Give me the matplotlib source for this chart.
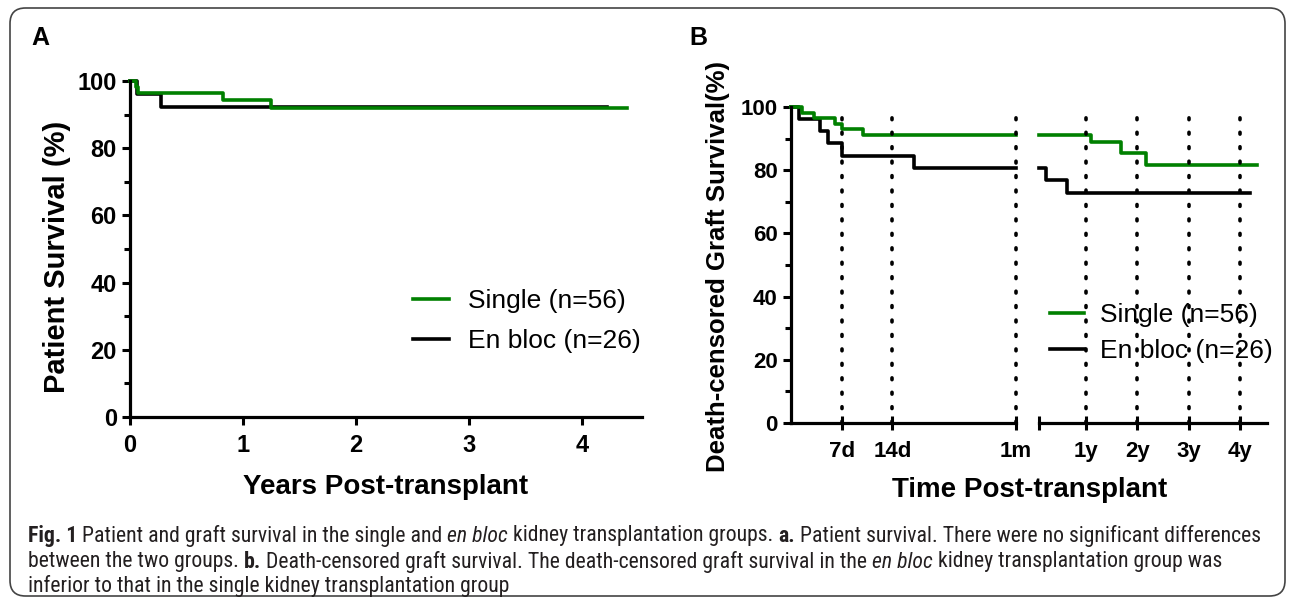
import numpy as np
import matplotlib
matplotlib.use("Agg")
import matplotlib.pyplot as plt
from matplotlib.patches import FancyBboxPatch

# data
# panel A: patient survival, years
a_single_t = [0, 0.05, 0.07, 0.82, 1.25, 4.40]
a_single_s = [100, 98.2, 96.4, 94.3, 92.0, 92.0]
a_bloc_t = [0, 0.06, 0.27, 4.22]
a_bloc_s = [100, 96.2, 92.3, 92.3]

# panel B: death-censored graft survival, first month in days
b_single_days = [0, 1.5, 3.2, 6.1, 7.0, 10.0, 31]
b_single_days_s = [100, 98.2, 96.4, 94.6, 92.9, 91.1, 91.1]
b_bloc_days = [0, 1.1, 4.0, 5.1, 7.0, 16.9, 31]
b_bloc_days_s = [100, 96.2, 92.3, 88.5, 84.6, 80.8, 80.8]
# after first month, in years
b_single_yrs = [0.09, 1.09, 1.69, 2.16, 4.33]
b_single_yrs_s = [91.1, 88.9, 85.4, 81.6, 81.6]
b_bloc_yrs = [0.09, 0.22, 0.62, 4.20]
b_bloc_yrs_s = [80.8, 76.9, 72.7, 72.7]

day_ticks = [7, 14, 31]
day_labels = ["7d", "14d", "1m"]
yr_ticks = [1, 2, 3, 4]
yr_labels = ["1y", "2y", "3y", "4y"]

labels = ["Single (n=56)", "En bloc (n=26)"]
green = "#008000"

plt.rcParams["font.family"] = ["Liberation Sans", "DejaVu Sans"]
W, H = 1293, 599
fig = plt.figure(figsize=(W / 100, H / 100), dpi=100)


def box(x0, y_top, x1, y_bot):
    # pixel box -> figure fraction [left, bottom, width, height]
    return [x0 / W, 1 - y_bot / H, (x1 - x0) / W, (y_bot - y_top) / H]


def style_y(ax):
    ax.set_ylim(0, 100)
    ax.set_yticks(range(0, 101, 20))
    ax.set_yticks(range(10, 100, 20), minor=True)
    ax.tick_params(axis="y", which="major", length=6, width=2.2, labelsize=17)
    ax.tick_params(axis="y", which="minor", length=4, width=2.2)
    for lb in ax.get_yticklabels():
        lb.set_fontweight("bold")


lw_curve = 2.6
lw_spine = 2.3

# ---- panel A
axA = fig.add_axes(box(130, 81, 642, 417))
axA.plot(a_bloc_t, a_bloc_s, drawstyle="steps-post", color="black", lw=lw_curve,
         clip_on=False, label=labels[1])
axA.plot(a_single_t, a_single_s, drawstyle="steps-post", color=green, lw=lw_curve,
         clip_on=False, label=labels[0])
axA.set_xlim(0, 4.53)
axA.set_xticks([0, 1, 2, 3, 4])
axA.tick_params(axis="x", length=6, width=2.2, labelsize=17, pad=6)
for lb in axA.get_xticklabels():
    lb.set_fontweight("bold")
style_y(axA)
for s in ["top", "right"]:
    axA.spines[s].set_visible(False)
for s in ["left", "bottom"]:
    axA.spines[s].set_linewidth(lw_spine)
h, l = axA.get_legend_handles_labels()
axA.legend(h[::-1], l[::-1], loc="center left", bbox_to_anchor=(413 / W, 1 - 321 / H),
           bbox_transform=fig.transFigure, frameon=False, fontsize=19,
           handlelength=1.35, handletextpad=0.75, labelspacing=0.6,
           borderpad=0, borderaxespad=0)
fig.text(57 / W, 1 - 257 / H, "Patient Survival (%)", rotation=90, fontsize=21,
         fontweight="bold", ha="center", va="center")
fig.text(386 / W, 1 - 487 / H, "Years Post-transplant", fontsize=20,
         fontweight="bold", ha="center", va="center")

# ---- panel B, left part (days)
axB1 = fig.add_axes(box(790.7, 107, 1016, 423))
axB1.plot(b_bloc_days, b_bloc_days_s, drawstyle="steps-post", color="black",
          lw=lw_curve, clip_on=False)
axB1.plot(b_single_days, b_single_days_s, drawstyle="steps-post", color=green,
          lw=lw_curve, clip_on=False)
axB1.set_xlim(0, 31)
axB1.set_xticks(day_ticks)
axB1.set_xticklabels(day_labels, fontweight="bold")
axB1.tick_params(axis="x", direction="inout", length=10, width=2.2, labelsize=16, pad=8)
style_y(axB1)
for lb in axB1.get_yticklabels():
    lb.set_fontsize(16)
for s in ["top", "right"]:
    axB1.spines[s].set_visible(False)
for s in ["left", "bottom"]:
    axB1.spines[s].set_linewidth(lw_spine)
for x in day_ticks:
    axB1.axvline(x, ymin=0, ymax=1, color="black", lw=2.6,
                 linestyle=(0, (0.5, 3.5)), dash_capstyle="round", zorder=6,
                 clip_on=False)

# ---- panel B, right part (years)
x_lo, x_hi = 0.09, 4.52
axB2 = fig.add_axes(box(1039.3, 107, 1266.7, 423))
axB2.plot(b_bloc_yrs, b_bloc_yrs_s, drawstyle="steps-post", color="black",
          lw=lw_curve, clip_on=False, label=labels[1])
axB2.plot(b_single_yrs, b_single_yrs_s, drawstyle="steps-post", color=green,
          lw=lw_curve, clip_on=False, label=labels[0])
axB2.set_xlim(x_lo, x_hi)
axB2.set_ylim(0, 100)
axB2.set_xticks([x_lo] + yr_ticks)
axB2.set_xticklabels([""] + yr_labels, fontweight="bold")
axB2.tick_params(axis="x", direction="inout", length=10, width=2.2, labelsize=16, pad=8)
axB2.set_yticks([])
for s in ["top", "right", "left"]:
    axB2.spines[s].set_visible(False)
axB2.spines["bottom"].set_linewidth(lw_spine)
for x in yr_ticks:
    axB2.axvline(x, ymin=0, ymax=1, color="black", lw=2.6,
                 linestyle=(0, (0.5, 3.5)), dash_capstyle="round", zorder=6,
                 clip_on=False)
h, l = axB2.get_legend_handles_labels()
legB = axB2.legend(h[::-1], l[::-1], loc="center left",
                   bbox_to_anchor=(1050 / W, 1 - 333 / H),
                   bbox_transform=fig.transFigure, frameon=False, fontsize=19,
                   handlelength=1.3, handletextpad=0.6, labelspacing=0.45,
                   borderpad=0, borderaxespad=0)
legB.set_zorder(1)

fig.text(718 / W, 1 - 266 / H, "Death-censored Graft Survival(%)", rotation=90,
         fontsize=18.5, fontweight="bold", ha="center", va="center")
fig.text(1030 / W, 1 - 490 / H, "Time Post-transplant", fontsize=20,
         fontweight="bold", ha="center", va="center")

# panel letters
fig.text(40 / W, 1 - 38 / H, "A", fontsize=18, fontweight="bold", ha="center", va="center")
fig.text(698 / W, 1 - 38 / H, "B", fontsize=18, fontweight="bold", ha="center", va="center")

# rounded frame
frame = FancyBboxPatch((10 / W, 1 - 596 / H), 1275 / W, 588 / H,
                       boxstyle="round,pad=0,rounding_size=0.012",
                       transform=fig.transFigure, fill=False, lw=1.2,
                       edgecolor="#444444", mutation_aspect=W / H)
fig.patches.append(frame)

# caption, pieced together from styled runs
cap_font = ["Roboto Condensed", "Liberation Sans", "DejaVu Sans"]
cap_color = "#231f20"
renderer = fig.canvas.get_renderer()
caption = [
    (536, [("Fig. 1", "bold"), (" Patient and graft survival in the single and ", "normal"),
           ("en bloc", "italic"), (" kidney transplantation groups. ", "normal"),
           ("a.", "bold"),
           (" Patient survival. There were no significant differences", "normal")]),
    (562, [("between the two groups. ", "normal"), ("b.", "bold"),
           (" Death-censored graft survival. The death-censored graft survival in the ", "normal"),
           ("en bloc", "italic"), (" kidney transplantation group was", "normal")]),
    (586, [("inferior to that in the single kidney transplantation group", "normal")]),
]


def draw_line(y, runs, size):
    x = 28
    made = []
    for txt, st in runs:
        t = fig.text(x / W, 1 - y / H, txt, fontsize=size, color=cap_color,
                     family=cap_font, va="center",
                     fontweight="bold" if st == "bold" else "normal",
                     fontstyle="italic" if st == "italic" else "normal")
        made.append(t)
        x += t.get_window_extent(renderer).width
    return made, x - 28


# size the caption so the first line spans the same width as in the figure
probe, wid = draw_line(*caption[0], 12)
for t in probe:
    t.remove()
cap_size = 12 * 1234 / wid
for y, runs in caption:
    draw_line(y, runs, cap_size)

fig.savefig("out.png", dpi=100)
